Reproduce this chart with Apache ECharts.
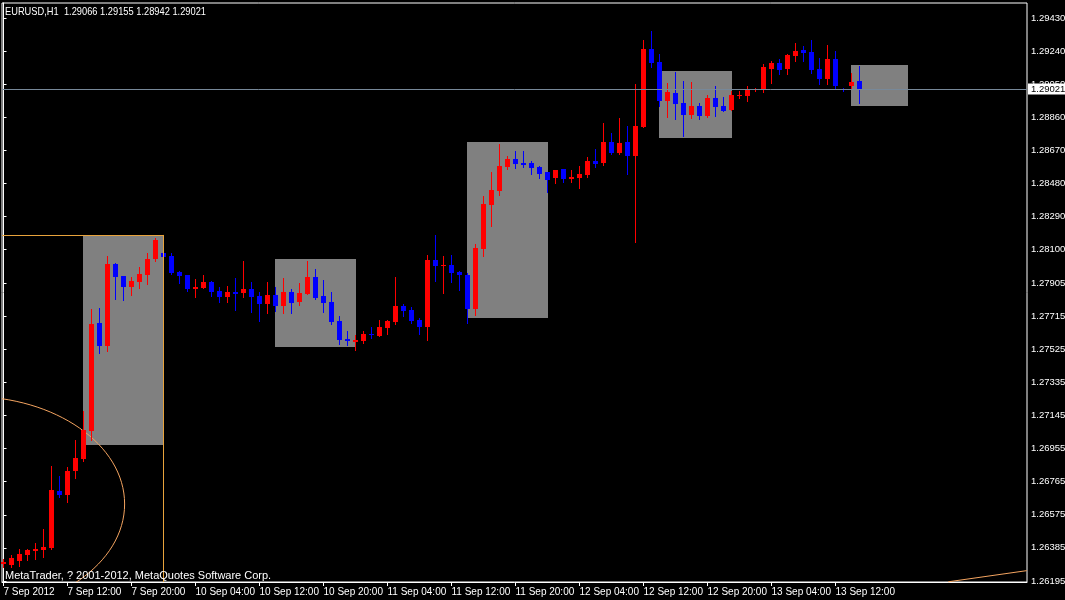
<!DOCTYPE html>
<html>
<head>
<meta charset="utf-8">
<script src="https://cdn.jsdelivr.net/npm/echarts@6/dist/echarts.min.js"></script>
<style>
html,body{margin:0;padding:0;background:#000;}
#chart{width:1065px;height:600px;}
</style>
</head>
<body>
<div id="chart"></div>
<script>
const symbolName = 'EURUSD,H1';
const copyrightText = 'MetaTrader, ? 2001-2012, MetaQuotes Software Corp.';

const opens = [1.26292,1.26287,1.26310,1.26344,1.26367,1.26373,1.26384,1.26712,1.26689,1.26827,
1.26896,1.27057,1.27677,1.27545,1.28016,1.27947,1.27884,1.27913,1.27953,1.28045,
1.28079,1.28062,1.27970,1.27953,1.27872,1.27878,1.27913,1.27861,1.27826,1.27855,
1.27849,1.27872,1.27832,1.27786,1.27838,1.27775,1.27855,1.27798,1.27844,1.27941,
1.27832,1.27798,1.27689,1.27585,1.27568,1.27574,1.27614,1.27602,1.27648,1.27683,
1.27775,1.27752,1.27694,1.27654,1.28039,1.28005,1.28010,1.27970,1.27953,1.27758,
1.28102,1.28355,1.28436,1.28573,1.28619,1.28596,1.28596,1.28573,1.28545,1.28510,
1.28562,1.28505,1.28510,1.28527,1.28608,1.28596,1.28717,1.28654,1.28717,1.28637,
1.28803,1.29251,1.29177,1.28953,1.28999,1.28941,1.28872,1.28924,1.28867,1.28970,
1.28924,1.28901,1.28981,1.28981,1.29016,1.29016,1.29137,1.29171,1.29137,1.29211,
1.29246,1.29234,1.29137,1.29079,1.29194,1.29022,1.29039,1.29066];

const highs = [1.26321,1.26344,1.26378,1.26378,1.26413,1.26493,1.26855,1.26798,1.26850,1.27005,
1.27171,1.27758,1.27763,1.28062,1.28022,1.27947,1.27941,1.27999,1.28079,1.28166,
1.28085,1.28079,1.27976,1.27953,1.27930,1.27953,1.27918,1.27884,1.27890,1.27936,
1.28033,1.27913,1.27855,1.27913,1.27884,1.27936,1.27872,1.27907,1.28033,1.27987,
1.27924,1.27855,1.27717,1.27631,1.27608,1.27631,1.27654,1.27694,1.27694,1.27941,
1.27786,1.27769,1.27706,1.28068,1.28183,1.28062,1.28068,1.27976,1.27964,1.28131,
1.28407,1.28545,1.28706,1.28637,1.28665,1.28665,1.28608,1.28579,1.28545,1.28556,
1.28562,1.28556,1.28579,1.28631,1.28677,1.28826,1.28769,1.28855,1.28809,1.29050,
1.29303,1.29355,1.29223,1.29056,1.29119,1.29068,1.29062,1.28941,1.28987,1.29039,
1.28976,1.29010,1.29010,1.29039,1.29027,1.29165,1.29183,1.29194,1.29223,1.29286,
1.29269,1.29303,1.29200,1.29274,1.29240,1.29027,1.29114,1.29155];

const lows = [1.26275,1.26275,1.26281,1.26315,1.26321,1.26333,1.26378,1.26677,1.26649,1.26786,
1.26884,1.27005,1.27505,1.27516,1.27815,1.27809,1.27838,1.27878,1.27901,1.28033,
1.28051,1.27959,1.27907,1.27861,1.27826,1.27878,1.27832,1.27798,1.27798,1.27752,
1.27826,1.27740,1.27689,1.27735,1.27746,1.27735,1.27735,1.27781,1.27844,1.27815,
1.27740,1.27671,1.27556,1.27551,1.27522,1.27562,1.27591,1.27602,1.27614,1.27671,
1.27717,1.27677,1.27614,1.27579,1.27918,1.27849,1.27913,1.27867,1.27677,1.27723,
1.28062,1.28234,1.28413,1.28562,1.28568,1.28573,1.28533,1.28510,1.28430,1.28482,
1.28487,1.28487,1.28453,1.28516,1.28573,1.28585,1.28648,1.28648,1.28533,1.28143,
1.28803,1.29148,1.28924,1.28861,1.28849,1.28752,1.28855,1.28849,1.28861,1.28867,
1.28895,1.28901,1.28970,1.28953,1.29010,1.29004,1.29056,1.29108,1.29108,1.29183,
1.29183,1.29114,1.29050,1.29050,1.29022,1.29010,1.29027,1.28942];

const closes = [1.26304,1.26327,1.26350,1.26373,1.26378,1.26390,1.26718,1.26689,1.26827,1.26901,
1.27062,1.27671,1.27545,1.28016,1.27941,1.27884,1.27918,1.27959,1.28045,1.28154,
1.28056,1.27964,1.27947,1.27872,1.27884,1.27913,1.27855,1.27826,1.27855,1.27844,
1.27872,1.27826,1.27786,1.27838,1.27775,1.27855,1.27792,1.27849,1.27941,1.27821,
1.27792,1.27683,1.27579,1.27574,1.27579,1.27614,1.27608,1.27654,1.27689,1.27775,
1.27746,1.27689,1.27654,1.28039,1.28005,1.28010,1.27964,1.27953,1.27758,1.28108,
1.28361,1.28441,1.28579,1.28619,1.28591,1.28585,1.28568,1.28533,1.28499,1.28556,
1.28505,1.28516,1.28533,1.28608,1.28591,1.28717,1.28654,1.28711,1.28637,1.28809,
1.29251,1.29171,1.28953,1.29004,1.28935,1.28872,1.28924,1.28867,1.28970,1.28918,
1.28895,1.28987,1.28987,1.29016,1.29022,1.29148,1.29171,1.29131,1.29217,1.29240,
1.29229,1.29131,1.29079,1.29194,1.29039,1.29016,1.29062,1.29021];

// time axis labels (bar index where each label sits)
const xTickBars = [0,8,16,24,32,40,48,56,64,72,80,88,96,104];
const xTickLabels = ['7 Sep 2012','7 Sep 12:00','7 Sep 20:00','10 Sep 04:00','10 Sep 12:00','10 Sep 20:00',
'11 Sep 04:00','11 Sep 12:00','11 Sep 20:00','12 Sep 04:00','12 Sep 12:00','12 Sep 20:00','13 Sep 04:00','13 Sep 12:00'];

// price scale labels
const yTickLabels = ['1.29430','1.29240','1.29050','1.28860','1.28670','1.28480','1.28290','1.28100','1.27905',
'1.27715','1.27525','1.27335','1.27145','1.26955','1.26765','1.26575','1.26385','1.26195'];

// session boxes (bar index range, price range)
const boxStart = [10, 34, 58, 82, 106];
const boxEnd   = [20, 44, 68, 91, 113];
const boxHigh  = [1.28183, 1.28045, 1.28717, 1.29125, 1.29160];
const boxLow   = [1.26976, 1.27539, 1.27706, 1.28740, 1.28924];

// drawn objects
const bidPrice = 1.29021;
const rangeEndBar = 20;
const rangeTop = 1.28183;
const ellipseCenter = [-4.16, 1.26637];   // bar index, price
const ellipseRadius = [19.3, 0.00618];    // bars, price
const trendFrom = [118.1, 1.26190];
const trendTo = [127.9, 1.26254];

// scale extents
const xMin = -0.1875, xMax = 127.9375;
const yMin = 1.261888, yMax = 1.295158;

const FONT = "'Liberation Sans',Arial,sans-serif";
const UP = '#ff0000', DOWN = '#0000ff';

const candleData = opens.map((o, i) => [i, o, closes[i], lows[i], highs[i]]);
const boxData = boxStart.map((s, i) => [s, boxEnd[i], boxHigh[i], boxLow[i]]);
const last = candleData.length - 1;
const header = symbolName + '  ' + [opens[last], highs[last], lows[last], closes[last]].map(v => v.toFixed(5)).join(' ');

function renderCandle(params, api) {
  const i = api.value(0), o = api.value(1), c = api.value(2), l = api.value(3), h = api.value(4);
  const po = api.coord([i, o]), pc = api.coord([i, c]), pl = api.coord([i, l]), ph = api.coord([i, h]);
  const cx = Math.floor(po[0]);
  const color = c >= o ? UP : DOWN;
  let top = Math.round(Math.min(po[1], pc[1]));
  let bot = Math.round(Math.max(po[1], pc[1]));
  if (bot - top < 1) bot = top + 1;
  const wt = Math.round(ph[1]);
  const wb = Math.round(pl[1]) + 1;
  return {
    type: 'group',
    children: [
      { type: 'rect', shape: { x: cx, y: wt, width: 1, height: Math.max(1, wb - wt) }, style: { fill: color } },
      { type: 'rect', shape: { x: cx - 2, y: top, width: 5, height: bot - top }, style: { fill: color } }
    ]
  };
}

function renderBox(params, api) {
  const p1 = api.coord([api.value(0), api.value(2)]);
  const p2 = api.coord([api.value(1), api.value(3)]);
  const x1 = Math.floor(p1[0]), x2 = Math.floor(p2[0]) + 1;
  const y1 = Math.round(p1[1]), y2 = Math.round(p2[1]);
  return { type: 'rect', shape: { x: x1, y: y1, width: x2 - x1, height: y2 - y1 }, style: { fill: '#808080' } };
}

function renderEllipse(params, api) {
  const c = api.coord([api.value(0), api.value(1)]);
  const s = api.size([api.value(2), api.value(3)]);
  return { type: 'ellipse', shape: { cx: c[0], cy: c[1], rx: s[0], ry: s[1] },
           style: { fill: null, stroke: '#f4a460', lineWidth: 1 } };
}

const chart = echarts.init(document.getElementById('chart'), null, { renderer: 'canvas' });
chart.setOption({
  animation: false,
  backgroundColor: '#000000',
  textStyle: { fontFamily: FONT },
  grid: { left: 2, right: 38, top: 3, bottom: 18, show: true, borderColor: '#ffffff', borderWidth: 1,
          backgroundColor: '#000', containLabel: false, outerBoundsMode: 'none' },
  xAxis: {
    type: 'value', min: xMin, max: xMax, position: 'bottom',
    axisLine: { show: true, lineStyle: { color: '#ffffff', width: 1 } },
    axisTick: { show: true, length: 4, lineStyle: { color: '#ffffff' }, customValues: xTickBars },
    axisLabel: {
      show: true, color: '#ffffff', fontSize: 10, fontFamily: FONT, margin: 5, align: 'left',
      hideOverlap: false, customValues: xTickBars,
      formatter: v => { const j = xTickBars.indexOf(Math.round(v)); return j >= 0 ? xTickLabels[j] : ''; }
    },
    splitLine: { show: false }
  },
  yAxis: {
    type: 'value', min: yMin, max: yMax, position: 'right', scale: true,
    axisLine: { show: true, lineStyle: { color: '#ffffff', width: 1 } },
    axisTick: { show: true, length: 3, lineStyle: { color: '#ffffff' }, customValues: yTickLabels.map(Number) },
    axisLabel: {
      show: true, color: '#ffffff', fontSize: 9.5, fontFamily: FONT, margin: 4, hideOverlap: false,
      customValues: yTickLabels.map(Number),
      formatter: v => { const s = yTickLabels.find(t => Math.abs(Number(t) - v) < 1e-7); return s || v.toFixed(5); }
    },
    splitLine: { show: false }
  },
  graphic: [
    { type: 'text', x: 5, y: 6, scaleX: 0.845, z: 10, style: { text: header, fill: '#ffffff', font: '11px ' + FONT } },
    { type: 'text', x: 5, y: 570, z: 10, style: { text: copyrightText, fill: '#ffffff', font: '11px ' + FONT } }
  ],
  series: [
    {
      type: 'custom', name: 'boxes', z: 1, renderItem: renderBox, data: boxData,
      encode: { x: [0, 1], y: [2, 3] }, silent: true
    },
    {
      type: 'custom', name: 'ellipse', z: 2, clip: true, renderItem: renderEllipse,
      data: [[ellipseCenter[0], ellipseCenter[1], ellipseRadius[0], ellipseRadius[1]]],
      encode: { x: 0, y: 1 }, silent: true
    },
    {
      type: 'line', name: 'objects', z: 2, data: [], silent: true,
      markLine: {
        silent: true, symbol: ['none', 'none'], animation: false, precision: 5,
        data: [
          [{ coord: [xMin, rangeTop], lineStyle: { color: '#e8a33c', width: 1, type: 'solid' }, label: { show: false } },
           { coord: [rangeEndBar, rangeTop] }],
          [{ coord: [rangeEndBar, rangeTop], lineStyle: { color: '#e8a33c', width: 1, type: 'solid' }, label: { show: false } },
           { coord: [rangeEndBar, yMin] }],
          [{ coord: trendFrom, lineStyle: { color: '#f4a460', width: 1, type: 'solid' }, label: { show: false } },
           { coord: trendTo }],
          {
            yAxis: bidPrice,
            lineStyle: { color: '#778899', width: 1, type: 'solid' },
            label: {
              show: true, position: 'end', distance: 1, formatter: bidPrice.toFixed(5),
              color: '#000000', backgroundColor: '#ffffff', fontSize: 9.5, fontFamily: FONT,
              padding: [1, 2, 0, 3]
            }
          }
        ]
      }
    },
    {
      type: 'custom', name: 'candles', z: 3, renderItem: renderCandle, data: candleData,
      encode: { x: 0, y: [1, 2, 3, 4] }, silent: true
    }
  ]
});
</script>
</body>
</html>
